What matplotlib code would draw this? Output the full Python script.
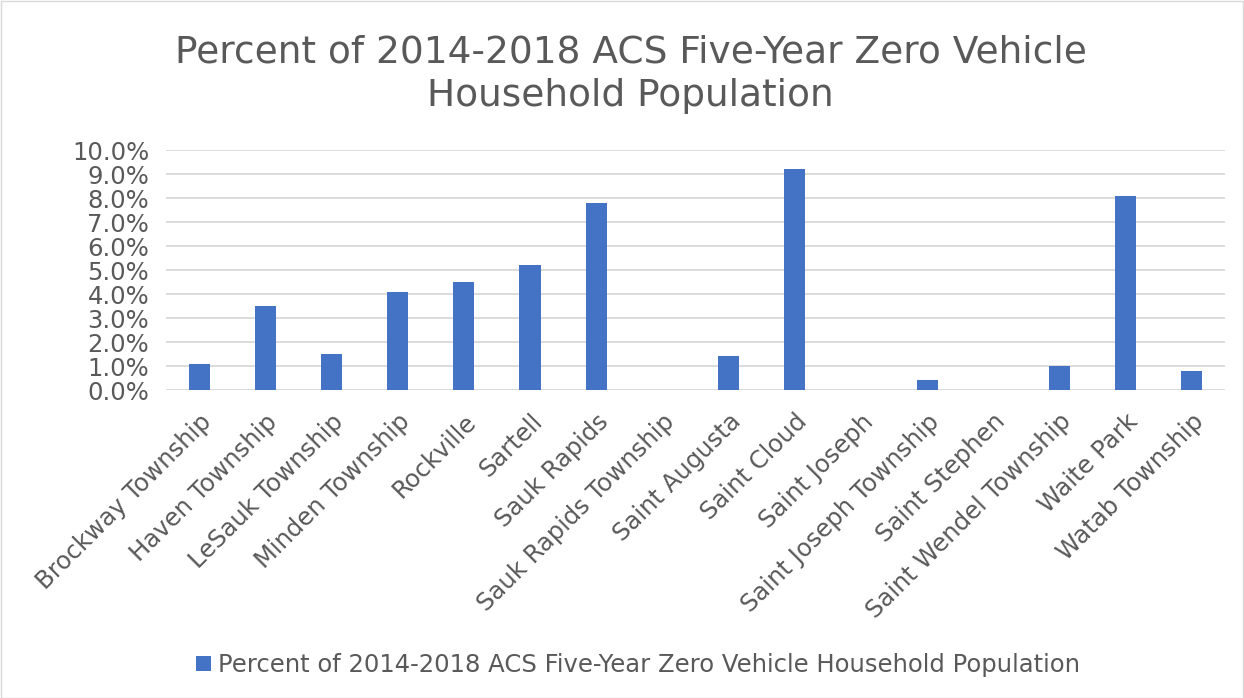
import matplotlib.pyplot as plt
from matplotlib.patches import Rectangle
from matplotlib.ticker import FuncFormatter, MultipleLocator

places = ['Brockway Township', 'Haven Township', 'LeSauk Township', 'Minden Township',
          'Rockville', 'Sartell', 'Sauk Rapids', 'Sauk Rapids Township', 'Saint Augusta',
          'Saint Cloud', 'Saint Joseph', 'Saint Joseph Township', 'Saint Stephen',
          'Saint Wendel Township', 'Waite Park', 'Watab Township']
pct_zero_vehicle = [1.1, 3.5, 1.5, 4.1, 4.5, 5.2, 7.8, 0.0, 1.4,
                    9.2, 0.0, 0.4, 0.0, 1.0, 8.1, 0.8]
series_name = 'Percent of 2014-2018 ACS Five-Year Zero Vehicle Household Population'
title = 'Percent of 2014-2018 ACS Five-Year Zero Vehicle\nHousehold Population'

text_color = '#595959'
grid_color = '#d9d9d9'
bar_color = '#4472c4'

plt.rcParams['font.family'] = ['DejaVu Sans']

fig = plt.figure(figsize=(12.44, 6.98), dpi=100)
ax = fig.add_axes([166 / 1244, 1 - 390 / 698, 1059 / 1244, 240 / 698])

# chart border
fig.patches.append(Rectangle((0.5 / 1244, 0.5 / 698), 1 - 1.5 / 1244, 1 - 1.5 / 698,
                             transform=fig.transFigure, fill=False,
                             edgecolor='#d9d9d9', linewidth=1))

x = range(len(places))
ax.bar(x, pct_zero_vehicle, width=0.32, color=bar_color, label=series_name, zorder=3)

ax.set_xlim(-0.5, len(places) - 0.5)
ax.set_ylim(0, 10)
ax.yaxis.set_major_locator(MultipleLocator(1))
ax.yaxis.set_major_formatter(FuncFormatter(lambda v, p: f'{v:.1f}%'))
ax.grid(axis='y', color=grid_color, linewidth=1.3, zorder=0)

for s in ax.spines.values():
    s.set_visible(False)
ax.tick_params(length=0, labelsize=17.5, colors=text_color)
ax.tick_params(axis='y', pad=12)
ax.tick_params(axis='x', pad=14)
ax.set_xticks(list(x))
ax.set_xticklabels(places, rotation=45, ha='right', rotation_mode='anchor')

fig.text(0.507, 1 - 74 / 698, title, ha='center', va='center', fontsize=27,
         color=text_color, linespacing=1.25)

fig.legend(loc='center', bbox_to_anchor=(0.513, 1 - 665 / 698), frameon=False,
           fontsize=17.5, labelcolor=text_color, handlelength=0.6, handleheight=0.6,
           handletextpad=0.3)

fig.savefig('out.png', dpi=100)
